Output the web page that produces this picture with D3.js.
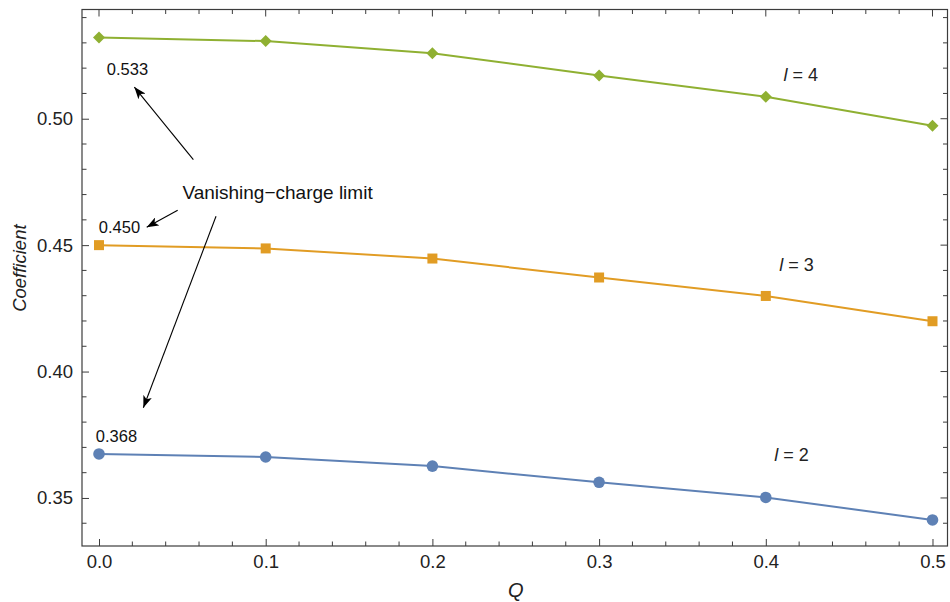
<!DOCTYPE html>
<html>
<head>
<meta charset="utf-8">
<script src="https://cdn.jsdelivr.net/npm/d3@7"></script>
<style>
  body { margin: 0; background: #fff; }
  svg { font-family: "Liberation Sans", Arial, sans-serif; }
</style>
</head>
<body>
<svg width="950" height="602"></svg>
<script>
// values
var qValues = [0.0, 0.1, 0.2, 0.3, 0.4, 0.5];
var l2 = [0.3674, 0.3662, 0.3626, 0.3562, 0.3502, 0.3413];
var l3 = [0.4500, 0.4487, 0.4447, 0.4372, 0.4299, 0.4199];
var l4 = [0.5321, 0.5307, 0.5259, 0.5171, 0.5087, 0.4972];
var seriesNames = ["l = 2", "l = 3", "l = 4"];
var seriesColors = ["#5E81B5", "#E19C24", "#8FB032"];
var xTicks = [0.0, 0.1, 0.2, 0.3, 0.4, 0.5];
var yTicks = [0.35, 0.40, 0.45, 0.50];

var svg = d3.select("svg");
var mLeft = 82, mRight = 947.5, mTop = 9.5, mBottom = 546;

var x = d3.scaleLinear().domain([-0.0102, 0.509]).range([mLeft, mRight]);
var y = d3.scaleLinear().domain([0.331, 0.5432]).range([mBottom, mTop]);

var frameColor = "#3c3c3c";

// minor ticks every 0.02 on x, 0.01 on y
var xMinor = d3.range(0, 0.5001, 0.02).filter(d => Math.abs(d * 10 - Math.round(d * 10)) > 1e-6);
var yMinor = d3.range(0.34, 0.5401, 0.01).filter(d => Math.abs(d * 20 - Math.round(d * 20)) > 1e-6);

function frameAxis(axis, major, fmt) {
    return g => {
        g.call(axis.tickValues(major).tickSize(7).tickSizeOuter(0).tickFormat(fmt));
        g.call(s => s.select(".domain").remove());
        g.attr("font-family", null).attr("font-size", 18.5);
        g.selectAll("line").attr("stroke", frameColor);
        g.selectAll("text").attr("fill", "#222");
    };
}

// bottom (ticks point inward, like a Mathematica frame)
svg.append("g").attr("transform", "translate(0," + mBottom + ")")
    .call(frameAxis(d3.axisBottom(x), xTicks, d3.format(".1f")))
    .call(g => g.selectAll("line").attr("y2", -7))
    .call(g => g.selectAll("text").attr("y", 9));
svg.append("g").attr("transform", "translate(0," + mBottom + ")")
    .selectAll("line").data(xMinor).enter().append("line")
    .attr("x1", d => x(d)).attr("x2", d => x(d)).attr("y1", 0).attr("y2", -4.5)
    .attr("stroke", frameColor);

// left
svg.append("g").attr("transform", "translate(" + mLeft + ",0)")
    .call(frameAxis(d3.axisLeft(y), yTicks, d3.format(".2f")))
    .call(g => g.selectAll("line").attr("x2", 7))
    .call(g => g.selectAll("text").attr("x", -9));
svg.append("g").attr("transform", "translate(" + mLeft + ",0)")
    .selectAll("line").data(yMinor).enter().append("line")
    .attr("y1", d => y(d)).attr("y2", d => y(d)).attr("x1", 0).attr("x2", 4.5)
    .attr("stroke", frameColor);

// top and right (ticks, no labels)
var topG = svg.append("g");
topG.selectAll("line.maj").data(xTicks).enter().append("line")
    .attr("x1", d => x(d)).attr("x2", d => x(d)).attr("y1", mTop).attr("y2", mTop + 7)
    .attr("stroke", frameColor);
topG.selectAll("line.min").data(xMinor).enter().append("line")
    .attr("x1", d => x(d)).attr("x2", d => x(d)).attr("y1", mTop).attr("y2", mTop + 4.5)
    .attr("stroke", frameColor);
var rightG = svg.append("g");
rightG.selectAll("line.maj").data(yTicks).enter().append("line")
    .attr("y1", d => y(d)).attr("y2", d => y(d)).attr("x1", mRight).attr("x2", mRight - 7)
    .attr("stroke", frameColor);
rightG.selectAll("line.min").data(yMinor).enter().append("line")
    .attr("y1", d => y(d)).attr("y2", d => y(d)).attr("x1", mRight).attr("x2", mRight - 4.5)
    .attr("stroke", frameColor);

// frame
svg.append("rect")
    .attr("x", mLeft).attr("y", mTop)
    .attr("width", mRight - mLeft).attr("height", mBottom - mTop)
    .attr("fill", "none").attr("stroke", frameColor).attr("stroke-width", 1.2);

// axis labels
svg.append("text").attr("x", x(0.25)).attr("y", 597)
    .attr("text-anchor", "middle").attr("font-size", 20).attr("font-style", "italic")
    .attr("fill", "#222").text("Q");
svg.append("text").attr("transform", "translate(26," + y(0.4409) + ") rotate(-90)")
    .attr("text-anchor", "middle").attr("font-size", 18.5).attr("font-style", "italic")
    .attr("fill", "#222").text("Coefficient");

// series
var allSeries = [l2, l3, l4];
var line = d3.line().x((d, i) => x(qValues[i])).y(d => y(d));
var plot = svg.append("g");

allSeries.forEach((vals, k) => {
    plot.append("path").datum(vals)
        .attr("d", line)
        .attr("fill", "none")
        .attr("stroke", seriesColors[k])
        .attr("stroke-width", 2);
});

// markers: circle, square, diamond
plot.selectAll("circle").data(l2).enter().append("circle")
    .attr("cx", (d, i) => x(qValues[i])).attr("cy", d => y(d)).attr("r", 5.8)
    .attr("fill", seriesColors[0]);
plot.selectAll("rect.sq").data(l3).enter().append("rect")
    .attr("x", (d, i) => x(qValues[i]) - 5).attr("y", d => y(d) - 5)
    .attr("width", 10).attr("height", 10)
    .attr("fill", seriesColors[1]);
plot.selectAll("path.dm").data(l4).enter().append("path")
    .attr("transform", (d, i) => "translate(" + x(qValues[i]) + "," + y(d) + ")")
    .attr("d", "M0,-6L6,0L0,6L-6,0Z")
    .attr("fill", seriesColors[2]);

// series labels, placed in data coordinates
var labelQ = [0.4155, 0.4185, 0.421];
var labelV = [0.3673, 0.4423, 0.5176];
seriesNames.forEach((name, k) => {
    var t = plot.append("text")
        .attr("x", x(labelQ[k])).attr("y", y(labelV[k]))
        .attr("text-anchor", "middle").attr("dy", "0.35em")
        .attr("font-size", 18).attr("fill", "#222");
    t.append("tspan").attr("font-style", "italic").text("l");
    t.append("tspan").text(name.slice(1));
});

// vanishing-charge annotations
var limitText = ["0.368", "0.450", "0.533"];
var limitQ = [0.0105, 0.0123, 0.0171];
var limitV = [0.3745, 0.4570, 0.5197];
limitText.forEach((s, k) => {
    plot.append("text")
        .attr("x", x(limitQ[k])).attr("y", y(limitV[k]))
        .attr("text-anchor", "middle").attr("dy", "0.35em")
        .attr("font-size", 16.5).attr("fill", "#111").text(s);
});

plot.append("text")
    .attr("x", x(0.1071)).attr("y", y(0.4708)).attr("dy", "0.35em")
    .attr("text-anchor", "middle").attr("font-size", 19).attr("fill", "#111")
    .text("Vanishing\u2212charge limit");

svg.append("defs").append("marker")
    .attr("id", "head").attr("viewBox", "0 0 12 9")
    .attr("refX", 12).attr("refY", 4.5)
    .attr("markerWidth", 12).attr("markerHeight", 9)
    .attr("markerUnits", "userSpaceOnUse")
    .attr("orient", "auto")
    .append("path").attr("d", "M0,0L12,4.5L0,9L3,4.5Z").attr("fill", "#000");

var arrowFrom = [[0.0566, 0.4838], [0.0472, 0.4638], [0.0702, 0.4614]];
var arrowTo = [[0.0212, 0.5125], [0.0286, 0.4571], [0.0266, 0.3857]];
arrowFrom.forEach((a, k) => {
    plot.append("line")
        .attr("x1", x(a[0])).attr("y1", y(a[1]))
        .attr("x2", x(arrowTo[k][0])).attr("y2", y(arrowTo[k][1]))
        .attr("stroke", "#000").attr("stroke-width", 1.1)
        .attr("marker-end", "url(#head)");
});
</script>
</body>
</html>
